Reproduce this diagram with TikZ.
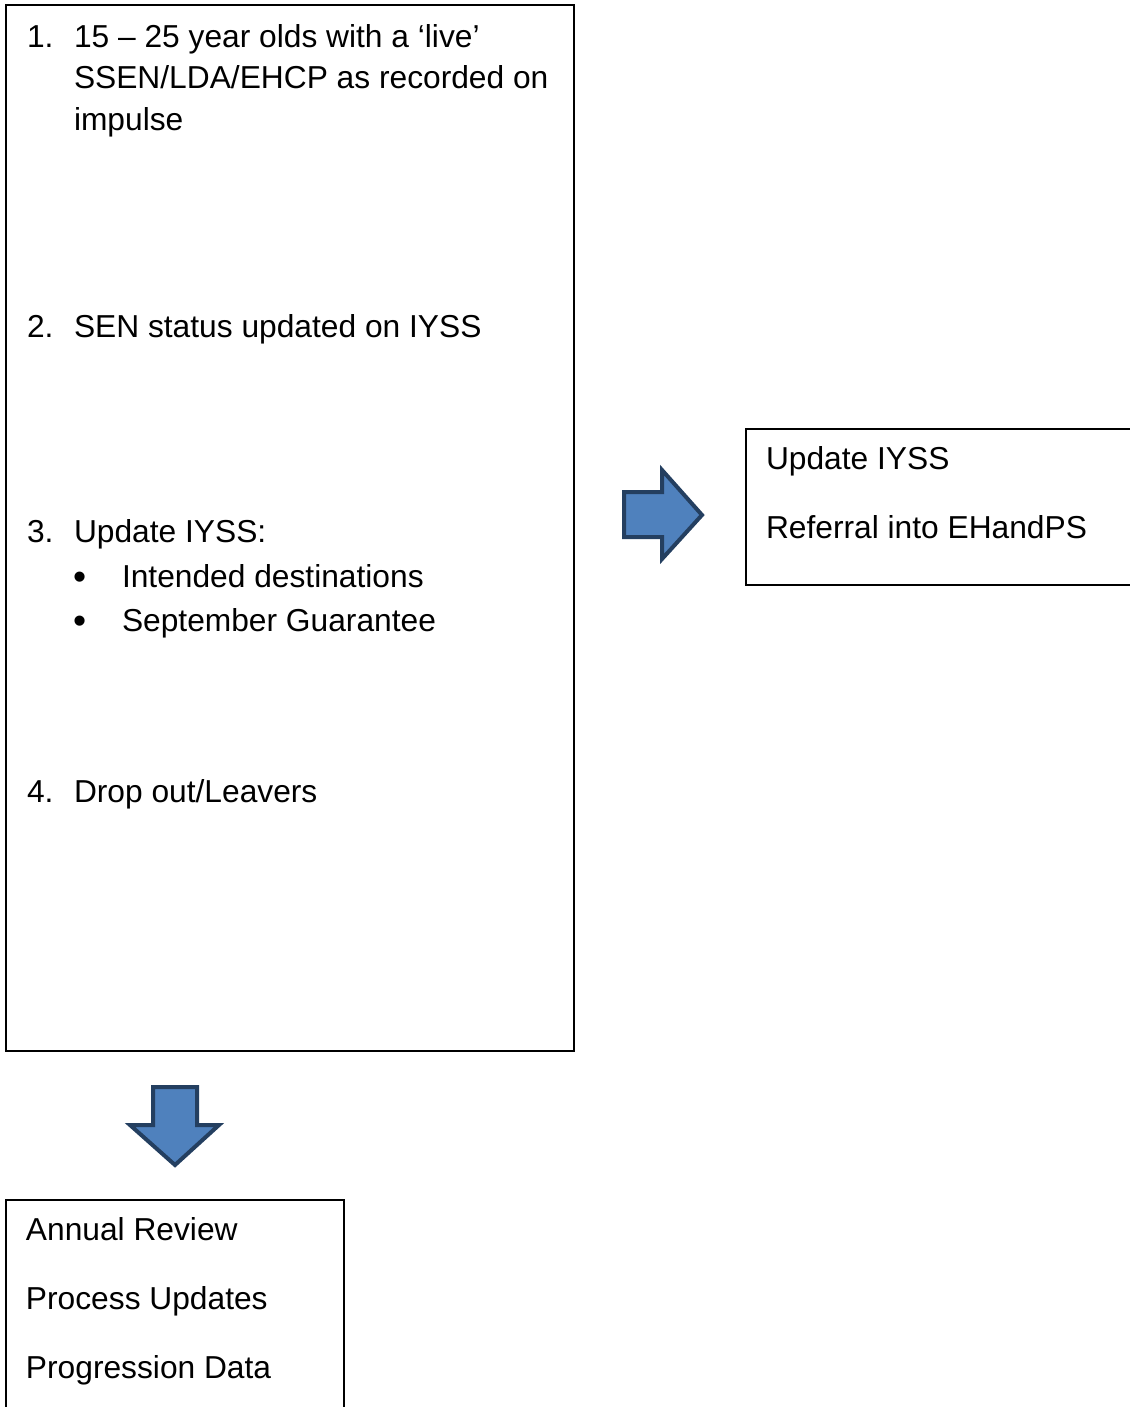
\documentclass[tikz,border=0pt]{standalone}
\usepackage{fontspec}
\setmainfont{Liberation Sans}
\usetikzlibrary{positioning}

\definecolor{arrowfill}{HTML}{4F81BD}
\definecolor{arrowedge}{HTML}{243F60}

\begin{document}
\begin{tikzpicture}[
    x=0.75pt, y=-0.75pt,
    every node/.style={inner sep=0pt, outer sep=0pt, anchor=base west, font=\fontsize{23.8pt}{31.1pt}\selectfont},
    frame/.style={draw, line width=0.9pt, anchor=north west, minimum width=#1},
    item/.style={align=left},
    bullet/.style={font=\fontsize{28pt}{31.1pt}\selectfont},
    blockarrow/.style={draw=arrowedge, fill=arrowfill, line width=3pt, line join=miter}
]
\useasboundingbox (0,0) rectangle (1130,1407);

% boxes
\node[frame=568*0.75pt, minimum height=1046*0.75pt] (steps) at (6,5) {};
\node[frame=420*0.75pt, minimum height=156*0.75pt] (iyss) at (746,429) {};
\node[frame=338*0.75pt, minimum height=260*0.75pt] (review) at (6,1200) {};

% numbered items
\node (n1) at (27,47) {1.};
\node[item] (t1) at (74,130) {15 – 25 year olds with a ‘live’\\SSEN/LDA/EHCP as recorded on\\impulse};
\node (n2) at (27,337) {2.};
\node (t2) at (74,337) {SEN status updated on IYSS};
\node (n3) at (27,542) {3.};
\node (t3) at (74,542) {Update IYSS:};
\node[bullet] (b1) at (73,589) {•};
\node (t3a) at (122,587) {Intended destinations};
\node[bullet] (b2) at (73,633) {•};
\node (t3b) at (122,631) {September Guarantee};
\node (n4) at (27,802) {4.};
\node (t4) at (74,802) {Drop out/Leavers};

% right box
\node (r1) at (766,469) {Update IYSS};
\node (r2) at (766,538) {Referral into EHandPS};

% bottom box
\node (a1) at (26,1240) {Annual Review};
\node (a2) at (26,1309) {Process Updates};
\node (a3) at (26,1378) {Progression Data};

% block arrows
\draw[blockarrow] (624,492) -- (662,492) -- (662,470) -- (702,515) -- (662,559)
    -- (662,537) -- (624,537) -- cycle;
\draw[blockarrow] (153,1087) -- (197,1087) -- (197,1125) -- (219,1125) -- (175,1165)
    -- (130,1125) -- (153,1125) -- cycle;
\end{tikzpicture}
\end{document}
